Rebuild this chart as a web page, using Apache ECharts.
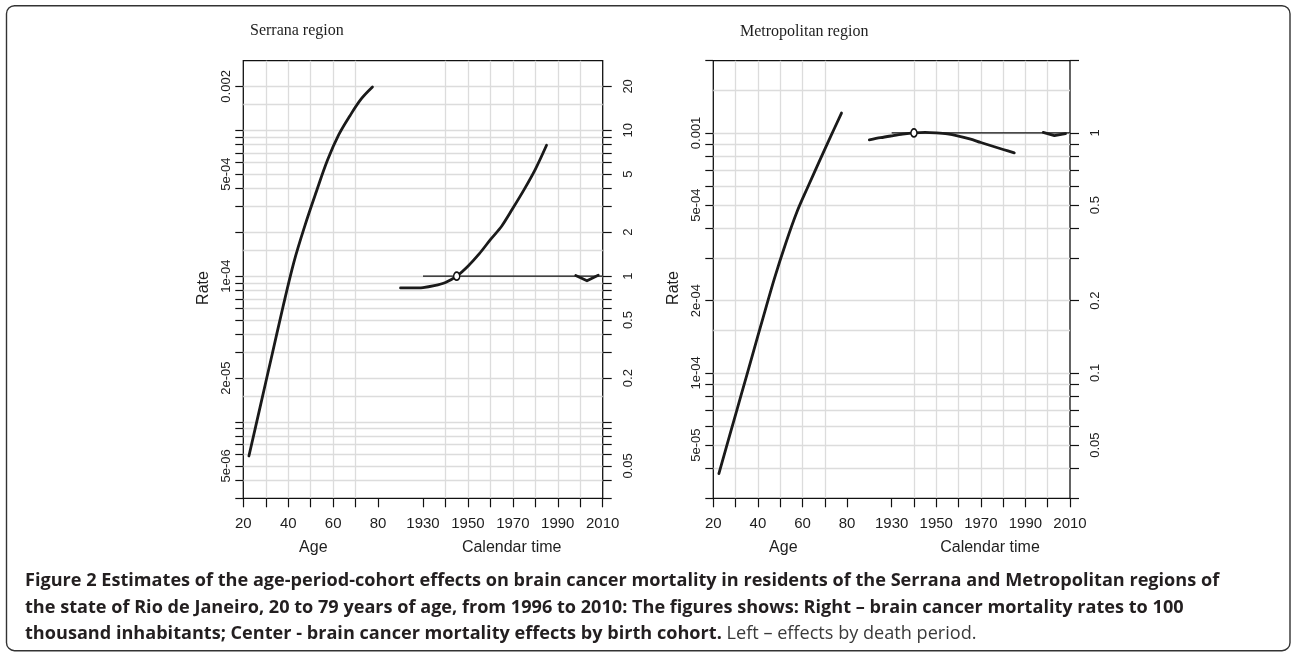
<!DOCTYPE html>
<html>
<head>
<meta charset="utf-8">
<script src="https://cdn.jsdelivr.net/npm/echarts@6/dist/echarts.min.js"></script>
<style>
html,body{margin:0;padding:0;background:#fff;}
#chart{width:1292px;height:657px;}
</style>
</head>
<body>
<div id="chart"></div>
<script>
// ---------------- DATA ----------------
const ageMid = [22.5, 27.5, 32.5, 37.5, 42.5, 47.5, 52.5, 57.5, 62.5, 67.5, 72.5, 77.5];
const serranaAgeRate = [5.85e-6, 1.27e-5, 2.76e-5, 6.0e-5, 1.245e-4, 2.24e-4, 3.79e-4, 6.25e-4, 9.33e-4, 1.26e-3, 1.64e-3, 1.98e-3];
const metroAgeRate = [3.8e-5, 5.55e-5, 8.09e-5, 1.18e-4, 1.72e-4, 2.49e-4, 3.47e-4, 4.68e-4, 5.98e-4, 7.59e-4, 9.6e-4, 1.21e-3];

const cohortYear = [1920, 1925, 1930, 1935, 1940, 1945, 1950, 1955, 1960, 1965, 1970, 1975, 1980, 1985];
const serranaCohortRR = [0.83, 0.83, 0.835, 0.86, 0.905, 1.0, 1.17, 1.42, 1.78, 2.2, 2.92, 3.92, 5.4, 7.9];
const metroCohortRR = [0.935, 0.955, 0.972, 0.988, 1.0, 1.005, 1.0, 0.99, 0.97, 0.945, 0.912, 0.882, 0.853, 0.826];

const periodYear = [1998, 2003, 2008];
const serranaPeriodRR = [1.01, 0.93, 1.015];
const metroPeriodRR = [1.005, 0.975, 0.993];

const serranaRefCohort = [1945];
const metroRefCohort = [1940];
const refLineYears = [1930, 2010];

// tick labels
const ageTickLabels = [20, 40, 60, 80];
const calTickLabels = [1930, 1950, 1970, 1990, 2010];
const serranaRateLabelValues = [0.002, 5e-4, 1e-4, 2e-5, 5e-6];
const serranaRateLabels = ['0.002', '5e-04', '1e-04', '2e-05', '5e-06'];
const serranaRRLabels = ['20', '10', '5', '2', '1', '0.5', '0.2', '0.05'];
const metroRateLabelValues = [0.001, 5e-4, 2e-4, 1e-4, 5e-5];
const metroRateLabels = ['0.001', '5e-04', '2e-04', '1e-04', '5e-05'];
const metroRRLabels = ['1', '0.5', '0.2', '0.1', '0.05'];

const panelTitles = ['Serrana region', 'Metropolitan region'];
const captionBold1 = 'Figure 2';
const captionLine1 = ' Estimates of the age-period-cohort effects on brain cancer mortality in residents of the Serrana and Metropolitan regions of';
const captionLine2 = 'the state of Rio de Janeiro, 20 to 79 years of age, from 1996 to 2010: The figures shows: Right \u2013 brain cancer mortality rates to 100';
const captionLine3b = 'thousand inhabitants; Center - brain cancer mortality effects by birth cohort.';
const captionLine3r = ' Left \u2013 effects by death period.';

// ---------------- HELPERS ----------------
function logValues(min, max, mants) {
  const out = [];
  for (let k = Math.floor(Math.log10(min)) - 1; k <= Math.ceil(Math.log10(max)) + 1; k++) {
    for (const m of mants) {
      const v = Number((m * Math.pow(10, k)).toPrecision(6));
      if (v >= min * (1 - 1e-9) && v <= max * (1 + 1e-9)) out.push(v);
    }
  }
  return out;
}
function fmtLookup(vals, texts) {
  return function (v) {
    for (let i = 0; i < vals.length; i++) {
      if (Math.abs(Math.log10(v) - Math.log10(vals[i])) < 1e-6) return texts[i];
    }
    return '';
  };
}
function plainNum(v) { return String(Math.round(v)); }
function zip(a, b) { return a.map((x, i) => [x, b[i]]); }
function range(a, b, s) { const o = []; for (let v = a; v <= b + 1e-9; v += s) o.push(v); return o; }

const AX_FONT = 'Liberation Sans, Arial, Helvetica, sans-serif';
const TXT = '#1e1e1e';
const GRIDC = '#dcdcdc';

const panels = [
  { left: 243.3, width: 359.4, rmin: 3e-6, rmax: 3e-3, tickMax: 2e-3, scale: 1e4,
    ageRate: serranaAgeRate, cohortRR: serranaCohortRR, periodRR: serranaPeriodRR, ref: serranaRefCohort,
    labVals: serranaRateLabelValues, labs: serranaRateLabels, rrLabs: serranaRRLabels },
  { left: 713.3, width: 356.7, rmin: 3e-5, rmax: 2e-3, tickMax: 2e-3, scale: 1e3,
    ageRate: metroAgeRate, cohortRR: metroCohortRR, periodRR: metroPeriodRR, ref: metroRefCohort,
    labVals: metroRateLabelValues, labs: metroRateLabels, rrLabs: metroRRLabels }
];

const TOP = 60.7, HEIGHT = 437.6;
const grids = [], xAxes = [], yAxes = [], series = [];

panels.forEach((p, g) => {
  grids.push({ left: p.left, top: TOP, width: p.width, height: HEIGHT, show: true,
    borderColor: '#111', borderWidth: 1.3, backgroundColor: 'transparent', containLabel: false, outerBoundsMode: 'none' });

  const tickVals = logValues(p.rmin, p.tickMax, [1, 2, 3, 4, 5, 6, 7, 8, 9]);
  const gridVals = logValues(p.rmin, p.rmax, [1, 1.5, 2, 3, 4, 5, 6, 7, 8, 9]);
  const rrTickVals = tickVals.map(v => Number((v * p.scale).toPrecision(6)));
  const rrLabVals = p.rrLabs.map(Number);

  // x axes: age and calendar time, overlaid on the same bottom line
  const xi = xAxes.length;
  xAxes.push({
    gridIndex: g, type: 'value', min: 20, max: 180, position: 'bottom',
    axisLine: { show: false },
    axisTick: { show: true, customValues: range(20, 80, 10), length: 9, lineStyle: { color: '#111', width: 1.2 } },
    axisLabel: { customValues: ageTickLabels, formatter: plainNum, margin: 18, fontSize: 15, color: TXT, fontFamily: AX_FONT },
    splitLine: { show: true, showMinLine: false, showMaxLine: false, lineStyle: { color: GRIDC, width: 1.3 } }
  });
  xAxes.push({
    gridIndex: g, type: 'value', min: 1850, max: 2010, position: 'bottom',
    axisLine: { show: false },
    axisTick: { show: true, customValues: range(1930, 2010, 10), length: 9, lineStyle: { color: '#111', width: 1.2 } },
    axisLabel: { customValues: calTickLabels, formatter: plainNum, margin: 18, fontSize: 15, color: TXT, fontFamily: AX_FONT },
    splitLine: { show: true, showMinLine: false, showMaxLine: false, lineStyle: { color: GRIDC, width: 1.3 } }
  });

  // y axes: grid-only, rate (left), relative risk (right)
  const yi = yAxes.length;
  yAxes.push({
    gridIndex: g, type: 'log', logBase: 10, min: p.rmin, max: p.rmax, position: 'left',
    axisLine: { show: false }, axisLabel: { show: false },
    axisTick: { show: false, customValues: gridVals },
    splitLine: { show: true, showMinLine: false, showMaxLine: false, lineStyle: { color: GRIDC, width: 1.3 } }
  });
  yAxes.push({
    gridIndex: g, type: 'log', logBase: 10, min: p.rmin, max: p.rmax, position: 'left',
    axisLine: { show: false }, splitLine: { show: false },
    axisTick: { show: true, customValues: tickVals, length: 8, lineStyle: { color: '#111', width: 1.2 } },
    axisLabel: { customValues: p.labVals, formatter: fmtLookup(p.labVals, p.labs), rotate: 90, margin: 10,
      fontSize: 13, color: TXT, fontFamily: AX_FONT }
  });
  yAxes.push({
    gridIndex: g, type: 'log', logBase: 10, min: Number((p.rmin * p.scale).toPrecision(6)), max: Number((p.rmax * p.scale).toPrecision(6)), position: 'right',
    axisLine: { show: false }, splitLine: { show: false },
    axisTick: { show: true, customValues: rrTickVals, length: 9, lineStyle: { color: '#111', width: 1.2 } },
    axisLabel: { customValues: rrLabVals, formatter: fmtLookup(rrLabVals, p.rrLabs), rotate: 90, margin: 19,
      fontSize: 13, color: TXT, fontFamily: AX_FONT }
  });

  const lineStyle = { color: '#1a1a1a', width: 2.8, cap: 'round', join: 'round' };
  series.push({ type: 'line', xAxisIndex: xi, yAxisIndex: yi + 1, data: zip(ageMid, p.ageRate),
    smooth: 0.35, showSymbol: false, symbol: 'none', lineStyle: lineStyle, z: 5 });
  series.push({ type: 'line', xAxisIndex: xi + 1, yAxisIndex: yi + 2, data: zip(refLineYears, refLineYears.map(() => 1)),
    showSymbol: false, symbol: 'none', lineStyle: { color: '#111', width: 1.1 }, z: 4 });
  series.push({ type: 'line', xAxisIndex: xi + 1, yAxisIndex: yi + 2, data: zip(cohortYear, p.cohortRR),
    smooth: 0.3, showSymbol: false, symbol: 'none', lineStyle: lineStyle, z: 5 });
  series.push({ type: 'line', xAxisIndex: xi + 1, yAxisIndex: yi + 2, data: zip(periodYear, p.periodRR),
    showSymbol: false, symbol: 'none', lineStyle: lineStyle, z: 5 });
  series.push({ type: 'scatter', xAxisIndex: xi + 1, yAxisIndex: yi + 2, data: zip(p.ref, p.ref.map(() => 1)),
    symbol: 'circle', symbolSize: [6, 8], itemStyle: { color: '#fff', borderColor: '#111', borderWidth: 1.6, opacity: 1 }, z: 6 });
});

// caption font sizing to match line width in reference
const CAP_FONT = '"Open Sans", "Noto Sans", "Liberation Sans", sans-serif';
const mctx = document.createElement('canvas').getContext('2d');
mctx.font = 'bold 16px ' + CAP_FONT;
const w1 = mctx.measureText(captionBold1 + captionLine1).width;
let capSize = 16 * 1195 / w1;
if (!(capSize > 10 && capSize < 22)) capSize = 15.5;

const graphics = [
  { type: 'rect', shape: { x: 6.5, y: 5.7, width: 1283.5, height: 645, r: 8 },
    style: { fill: 'none', stroke: '#333', lineWidth: 1.4 }, silent: true },
  { type: 'text', x: 250, y: 31, style: { text: panelTitles[0], font: '16px "Liberation Serif", "Times New Roman", serif', fill: TXT, verticalAlign: 'middle' } },
  { type: 'text', x: 740, y: 31.5, style: { text: panelTitles[1], font: '16px "Liberation Serif", "Times New Roman", serif', fill: TXT, verticalAlign: 'middle' } },
  { type: 'text', x: 203.3, y: 288, rotation: Math.PI / 2, style: { text: 'Rate', font: '16px ' + AX_FONT, fill: TXT, align: 'center', verticalAlign: 'middle' } },
  { type: 'text', x: 673.5, y: 288, rotation: Math.PI / 2, style: { text: 'Rate', font: '16px ' + AX_FONT, fill: TXT, align: 'center', verticalAlign: 'middle' } },
  { type: 'text', x: 313.3, y: 548, style: { text: 'Age', font: '16px ' + AX_FONT, fill: TXT, align: 'center', verticalAlign: 'middle' } },
  { type: 'text', x: 511.7, y: 548, style: { text: 'Calendar time', font: '16px ' + AX_FONT, fill: TXT, align: 'center', verticalAlign: 'middle' } },
  { type: 'text', x: 783.3, y: 548, style: { text: 'Age', font: '16px ' + AX_FONT, fill: TXT, align: 'center', verticalAlign: 'middle' } },
  { type: 'text', x: 990, y: 548, style: { text: 'Calendar time', font: '16px ' + AX_FONT, fill: TXT, align: 'center', verticalAlign: 'middle' } },
  { type: 'text', x: 25, y: 567.75, style: {
      text: '{b|' + captionBold1 + captionLine1 + '}\n{b|' + captionLine2 + '}\n{b|' + captionLine3b + '}{r|' + captionLine3r + '}',
      verticalAlign: 'top', align: 'left',
      rich: {
        b: { fontFamily: CAP_FONT, fontWeight: 'bold', fontSize: capSize, lineHeight: 26.5, fill: '#231f20', color: '#231f20' },
        r: { fontFamily: CAP_FONT, fontWeight: 'normal', fontSize: capSize, lineHeight: 26.5, fill: '#3a3a3a', color: '#3a3a3a' }
      } } }
];

const chart = echarts.init(document.getElementById('chart'), null, { renderer: 'canvas' });
chart.setOption({
  animation: false,
  backgroundColor: '#fff',
  grid: grids,
  xAxis: xAxes,
  yAxis: yAxes,
  series: series,
  graphic: graphics
});
</script>
</body>
</html>
